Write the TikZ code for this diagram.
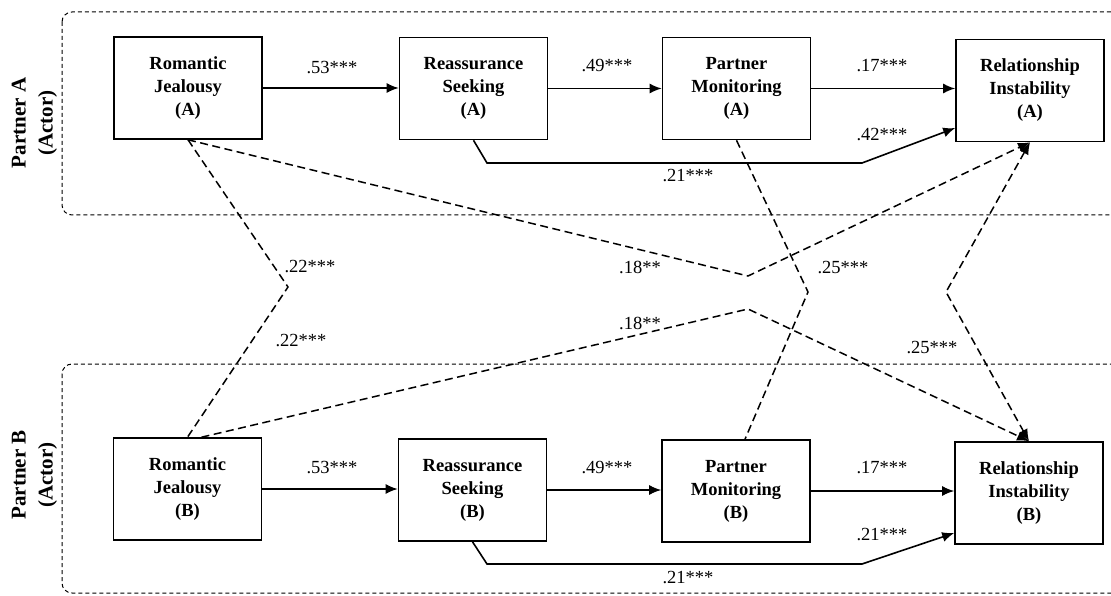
\documentclass[tikz,border=0pt]{standalone}
\usepackage{fontspec}
\setmainfont{Liberation Serif}
\usepackage{tikz}
\usetikzlibrary{arrows.meta}
\usetikzlibrary{positioning}
\usetikzlibrary{calc}

\tikzset{
  varbox/.style={draw, line width=1.6pt, minimum width=148pt, minimum height=102pt, inner sep=0pt, align=center, font=\fontsize{18.5}{23}\selectfont\bfseries},
  coef/.style={font=\fontsize{18.5}{20}\selectfont, inner sep=1pt},
  partner/.style={rotate=90, align=center, font=\fontsize{21}{27}\selectfont\bfseries},
  groupbox/.style={line width=1pt, dash pattern=on 4pt off 3pt, rounded corners=10pt},
  effarrow/.style={line width=1.6pt, -{Latex[length=12pt,width=10pt]}},
  crossline/.style={line width=1.5pt, dash pattern=on 8pt off 4.5pt},
}

\begin{document}
\begin{tikzpicture}[x=1pt, y=-1pt]
\useasboundingbox (0,0) rectangle (1111,596);
\clip (0,0) rectangle (1111,596);
\fill[white] (0,0) rectangle (1111,596);

\draw[groupbox] (62,12) rectangle (1130,215);
\draw[groupbox] (62,364) rectangle (1130,593);
\node[partner] (partnerA) at (34.5,123) {Partner A\\(Actor)};
\node[partner] (partnerB) at (34.5,475) {Partner B\\(Actor)};

\node[varbox] (rja) at (188,88) {Romantic\\Jealousy\\(A)};
\node[varbox] (rsa) at (473.5,88.5) {Reassurance\\Seeking\\(A)};
\node[varbox] (pma) at (736.5,88.5) {Partner\\Monitoring\\(A)};
\node[varbox] (ria) at (1030,90.5) {Relationship\\Instability\\(A)};

\node[varbox] (rjb) at (187.5,489) {Romantic\\Jealousy\\(B)};
\node[varbox] (rsb) at (472.5,490) {Reassurance\\Seeking\\(B)};
\node[varbox] (pmb) at (736,491) {Partner\\Monitoring\\(B)};
\node[varbox] (rib) at (1029,493) {Relationship\\Instability\\(B)};

\draw[effarrow] (rja.east) -- (rja.east -| rsa.west);
\draw[effarrow] (rsa.east) -- (rsa.east -| pma.west);
\draw[effarrow] (pma.east) -- (pma.east -| ria.west);
\draw[effarrow] (rjb.east) -- (rjb.east -| rsb.west);
\draw[effarrow] (rsb.east) -- (rsb.east -| pmb.west);
\draw[effarrow] (pmb.east) -- (pmb.east -| rib.west);

\coordinate (bendA1) at (487,163);
\coordinate (bendA2) at (862,163);
\draw[effarrow] (rsa.south) -- (bendA1) -- (bendA2) -- ($(ria.west)+(0,37.5)$);
\coordinate (bendB1) at (487,564);
\coordinate (bendB2) at (862,564);
\draw[effarrow] (rsb.south) -- (bendB1) -- (bendB2) -- ($(rib.west)+(0,40)$);

\coordinate (kinkJ) at (288,287);
\draw[crossline] (rja.south) -- (kinkJ) -- (rjb.north);
\coordinate (kinkRA) at (748,276);
\coordinate (kinkRB) at (748,309);
\draw[crossline, -{Latex[length=12pt,width=10pt]}] (rja.south) -- (kinkRA) -- (ria.south);
\draw[crossline, -{Latex[length=12pt,width=10pt]}] ([xshift=14pt]rjb.north) -- (kinkRB) -- (rib.north);
\coordinate (kinkM) at (808,292);
\draw[crossline] (pma.south) -- (kinkM) -- ([xshift=9pt]pmb.north);
\coordinate (kinkI) at (946,292);
\draw[crossline, {Latex[length=12pt,width=10pt]}-{Latex[length=12pt,width=10pt]}] (ria.south) -- (kinkI) -- (rib.north);

\node[coef] (c53a) at (332,68) {.53***};
\node[coef] (c49a) at (607,66) {.49***};
\node[coef] (c17a) at (882,66) {.17***};
\node[coef] (c42a) at (882,135) {.42***};
\node[coef] (c21a) at (688,176) {.21***};
\node[coef] (c53b) at (332,468) {.53***};
\node[coef] (c49b) at (607,468) {.49***};
\node[coef] (c17b) at (882,468) {.17***};
\node[coef] (c21b) at (882,535) {.21***};
\node[coef] (c21c) at (688,578) {.21***};
\node[coef] (c22a) at (310,267) {.22***};
\node[coef] (c22b) at (301,341) {.22***};
\node[coef] (c18a) at (640,267) {.18**};
\node[coef] (c18b) at (640,323) {.18**};
\node[coef] (c25a) at (843,268) {.25***};
\node[coef] (c25b) at (932,348) {.25***};
\end{tikzpicture}
\end{document}
